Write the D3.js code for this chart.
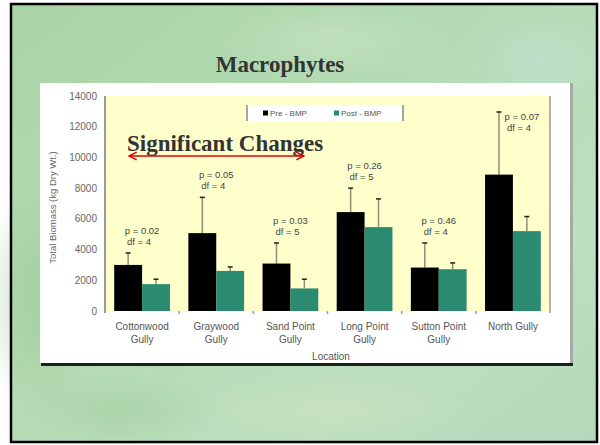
<!DOCTYPE html>
<html>
<head>
<meta charset="utf-8">
<script src="https://cdn.jsdelivr.net/npm/d3@7"></script>
<style>
  body { margin: 0; background: #fff; }
  svg { display: block; }
</style>
</head>
<body>
<svg id="slide" width="600" height="445"></svg>
<script>
// data
var locations = ["Cottonwood Gully", "Graywood Gully", "Sand Point Gully", "Long Point Gully", "Sutton Point Gully", "North Gully"];
var series = ["Pre - BMP", "Post - BMP"];
var preMean = [3000, 5070, 3090, 6440, 2830, 8880];
var preErr = [780, 2330, 1340, 1560, 1600, 4080];
var postMean = [1750, 2610, 1470, 5460, 2720, 5200];
var postErr = [320, 260, 600, 1840, 410, 950];
var pValues = ["0.02", "0.05", "0.03", "0.26", "0.46", "0.07"];
var dfValues = [4, 4, 5, 5, 4, 4];
var yTicks = [0, 2000, 4000, 6000, 8000, 10000, 12000, 14000];

var colors = ["#000000", "#2b8b70"];
var sans = "'Liberation Sans', Arial, sans-serif";
var serif = "'Liberation Serif', 'Times New Roman', serif";

var svg = d3.select("#slide");
var defs = svg.append("defs");

// slide background, pale mottled green
var bg = defs.append("linearGradient").attr("id", "bg")
    .attr("x1", 0).attr("y1", 0).attr("x2", 1).attr("y2", 1);
bg.append("stop").attr("offset", "0%").attr("stop-color", "#a9d4a6");
bg.append("stop").attr("offset", "45%").attr("stop-color", "#b5dbb4");
bg.append("stop").attr("offset", "75%").attr("stop-color", "#bddfbf");
bg.append("stop").attr("offset", "100%").attr("stop-color", "#b3d9bb");

var spots = [
    {id: "s1", c: "#c6e3c2", cx: 330, cy: 40, rx: 120, ry: 40},
    {id: "s2", c: "#bde0cf", cx: 540, cy: 60, rx: 80, ry: 60},
    {id: "s3", c: "#9fcd9b", cx: 40, cy: 300, rx: 60, ry: 120},
    {id: "s4", c: "#cce3bf", cx: 330, cy: 410, rx: 140, ry: 35},
    {id: "s5", c: "#a6d1a5", cx: 120, cy: 410, rx: 100, ry: 40}
];
spots.forEach(function (s) {
    var g = defs.append("radialGradient").attr("id", s.id);
    g.append("stop").attr("offset", "0%").attr("stop-color", s.c).attr("stop-opacity", 0.7);
    g.append("stop").attr("offset", "100%").attr("stop-color", s.c).attr("stop-opacity", 0);
});

defs.append("marker").attr("id", "arrow")
    .attr("viewBox", "0 0 10 10").attr("refX", 9).attr("refY", 5)
    .attr("markerWidth", 6).attr("markerHeight", 6).attr("orient", "auto-start-reverse")
    .append("path").attr("d", "M1,1 L9,5 L1,9").attr("fill", "none")
    .attr("stroke", "#e00000").attr("stroke-width", 1.6);

svg.append("rect").attr("x", 11).attr("y", 4).attr("width", 586).attr("height", 438)
    .attr("fill", "url(#bg)");
svg.selectAll("ellipse.spot").data(spots).enter().append("ellipse")
    .attr("class", "spot")
    .attr("cx", function (d) { return d.cx; })
    .attr("cy", function (d) { return d.cy; })
    .attr("rx", function (d) { return d.rx; })
    .attr("ry", function (d) { return d.ry; })
    .attr("fill", function (d) { return "url(#" + d.id + ")"; });
svg.append("rect").attr("x", 11).attr("y", 4).attr("width", 586).attr("height", 438)
    .attr("fill", "none").attr("stroke", "#000").attr("stroke-width", 2.5);

svg.append("text").attr("x", 280).attr("y", 72)
    .attr("text-anchor", "middle")
    .style("font-family", serif).style("font-weight", "bold").style("font-size", "23px")
    .style("fill", "#333")
    .text("Macrophytes");

// white chart panel with its shadow
svg.append("rect").attr("x", 41).attr("y", 84).attr("width", 532).attr("height", 282).attr("fill", "#1e1e1e");
svg.append("rect").attr("x", 570).attr("y", 83).attr("width", 3).attr("height", 280).attr("fill", "#a8a8a8");
svg.append("rect").attr("x", 40).attr("y", 83).attr("width", 530).attr("height", 280).attr("fill", "#fff");

var plot = {left: 105, right: 550, top: 96, bottom: 311};

var x0 = d3.scaleBand().domain(locations).range([plot.left, plot.right]);
var x1 = d3.scaleBand().domain(series).range([0, x0.bandwidth()]).paddingOuter(0.33);
var y = d3.scaleLinear().domain([0, 14000]).range([plot.bottom, plot.top]);

svg.append("rect").attr("x", plot.left).attr("y", plot.top)
    .attr("width", plot.right - plot.left).attr("height", plot.bottom - plot.top)
    .attr("fill", "#ffffcc");
svg.append("line").attr("x1", plot.left).attr("x2", plot.left)
    .attr("y1", plot.top).attr("y2", plot.bottom + 2)
    .attr("stroke", "#9a9a9a").attr("stroke-width", 2);
svg.append("line").attr("x1", plot.right).attr("x2", plot.right)
    .attr("y1", plot.top).attr("y2", plot.bottom + 2)
    .attr("stroke", "#b0b0b0").attr("stroke-width", 2);

// y tick labels
svg.selectAll("text.ytick").data(yTicks).enter().append("text")
    .attr("class", "ytick")
    .attr("x", 97)
    .attr("y", function (d) { return y(d) + 3.5; })
    .attr("text-anchor", "end")
    .style("font-family", sans).style("font-size", "10px").style("fill", "#666")
    .text(function (d) { return d; });

svg.append("text")
    .attr("transform", "translate(56," + ((plot.top + plot.bottom) / 2 + 4) + ") rotate(-90)")
    .attr("text-anchor", "middle")
    .style("font-family", sans).style("font-size", "9.5px").style("fill", "#666")
    .text("Total Biomass (kg Dry Wt.)");

// category boundary ticks
svg.selectAll("line.xtick").data(locations.slice(1)).enter().append("line")
    .attr("class", "xtick")
    .attr("x1", function (d) { return x0(d); })
    .attr("x2", function (d) { return x0(d); })
    .attr("y1", plot.bottom).attr("y2", plot.bottom + 3)
    .attr("stroke", "#999").attr("stroke-width", 1.5);

var rows = locations.map(function (loc, i) {
    return {
        loc: loc,
        i: i,
        vals: [
            {s: series[0], v: preMean[i], e: preErr[i]},
            {s: series[1], v: postMean[i], e: postErr[i]}
        ]
    };
});

var groups = svg.selectAll("g.loc").data(rows).enter().append("g")
    .attr("class", "loc")
    .attr("transform", function (d) { return "translate(" + x0(d.loc) + ",0)"; });

groups.selectAll("line.err").data(function (d) { return d.vals; }).enter().append("line")
    .attr("class", "err")
    .attr("x1", function (d) { return x1(d.s) + x1.bandwidth() / 2; })
    .attr("x2", function (d) { return x1(d.s) + x1.bandwidth() / 2; })
    .attr("y1", function (d) { return y(d.v); })
    .attr("y2", function (d) { return y(d.v + d.e); })
    .attr("stroke", "#8f8f78").attr("stroke-width", 1.5);

groups.selectAll("line.cap").data(function (d) { return d.vals; }).enter().append("line")
    .attr("class", "cap")
    .attr("x1", function (d) { return x1(d.s) + x1.bandwidth() / 2 - 2.5; })
    .attr("x2", function (d) { return x1(d.s) + x1.bandwidth() / 2 + 2.5; })
    .attr("y1", function (d) { return y(d.v + d.e); })
    .attr("y2", function (d) { return y(d.v + d.e); })
    .attr("stroke", "#222").attr("stroke-width", 1.5);

groups.selectAll("rect.bar").data(function (d) { return d.vals; }).enter().append("rect")
    .attr("class", "bar")
    .attr("x", function (d) { return x1(d.s); })
    .attr("width", x1.bandwidth())
    .attr("y", function (d) { return y(d.v); })
    .attr("height", function (d) { return y(0) - y(d.v); })
    .attr("fill", function (d, j) { return colors[j]; });

// p / df notes above each pair
groups.each(function (d) {
    var g = d3.select(this);
    var top = d3.min(d.vals, function (v) { return y(v.v + v.e); });
    var base = top - 8;
    var cx = x0.bandwidth() / 2;
    if (base - 11 < plot.top + 18) {
        // no room above the whisker: sit beside it
        base = plot.top + 35;
        cx += 9;
    }
    var note = g.append("text").attr("text-anchor", "middle")
        .style("font-family", sans).style("font-size", "9.5px").style("fill", "#444");
    note.append("tspan").attr("x", cx).attr("y", base - 11).text("p = " + pValues[d.i]);
    note.append("tspan").attr("x", cx - 3).attr("y", base).text("df = " + dfValues[d.i]);
});

// category labels, long names on two lines
var catLabels = svg.selectAll("text.cat").data(locations).enter().append("text")
    .attr("class", "cat")
    .attr("text-anchor", "middle")
    .style("font-family", sans).style("font-size", "10px").style("fill", "#555");
catLabels.each(function (d) {
    var t = d3.select(this);
    var cx = x0(d) + x0.bandwidth() / 2;
    var lines = d.length > 12 ? [d.slice(0, d.lastIndexOf(" ")), d.slice(d.lastIndexOf(" ") + 1)] : [d];
    lines.forEach(function (l, k) {
        t.append("tspan").attr("x", cx).attr("y", 330 + k * 12.5).text(l);
    });
});

svg.append("text").attr("x", 331).attr("y", 360)
    .attr("text-anchor", "middle")
    .style("font-family", sans).style("font-size", "10px").style("fill", "#555")
    .text("Location");

// legend
var legend = svg.append("g").attr("transform", "translate(247,105)");
legend.append("rect").attr("width", 156).attr("height", 16).attr("fill", "#fff");
legend.append("line").attr("x1", 0).attr("x2", 0).attr("y1", 0).attr("y2", 16)
    .attr("stroke", "#888").attr("stroke-width", 1.5);
legend.append("line").attr("x1", 156).attr("x2", 156).attr("y1", 0).attr("y2", 16)
    .attr("stroke", "#888").attr("stroke-width", 1.5);
var items = legend.selectAll("g.item").data(series).enter().append("g")
    .attr("class", "item")
    .attr("transform", function (d, j) { return "translate(" + (16 + j * 71) + ",0)"; });
items.append("rect").attr("y", 5.5).attr("width", 5).attr("height", 5)
    .attr("fill", function (d, j) { return colors[j]; });
items.append("text").attr("x", 7).attr("y", 11)
    .style("font-family", sans).style("font-size", "8px").style("fill", "#555")
    .text(function (d) { return d; });

// overlay: the "significant" bracket
svg.append("text").attr("x", 127).attr("y", 151)
    .style("font-family", serif).style("font-weight", "bold").style("font-size", "23px")
    .style("fill", "#333")
    .text("Significant Changes");
svg.append("line").attr("x1", 129).attr("x2", 304).attr("y1", 156).attr("y2", 156)
    .attr("stroke", "#e00000").attr("stroke-width", 1.6)
    .attr("marker-start", "url(#arrow)").attr("marker-end", "url(#arrow)");
</script>
</body>
</html>
